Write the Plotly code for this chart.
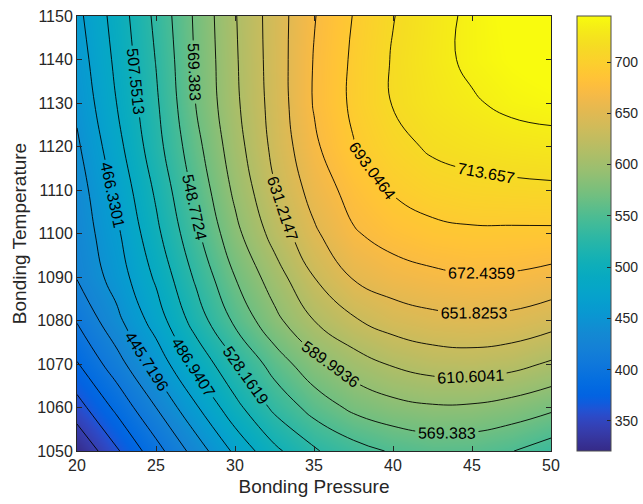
import plotly.graph_objects as go

# ---- data ----
pressure = [20, 22.5, 25, 27.5, 30, 32.5, 35, 37.5, 40, 42.5, 45, 47.5, 50]
temperature = [1050, 1060, 1070, 1080, 1090, 1100, 1110, 1120, 1130, 1140, 1150]

t1050 = [322.5, 360.3, 396.4, 433.5, 470.5, 502.7, 526.0, 540.5, 551.0, 556.5, 556.0, 549.5, 538.3]
t1060 = [355.0, 388.7, 425.1, 463.3, 500.9, 532.9, 556.7, 574.0, 583.2, 587.6, 587.1, 581.8, 573.5]
t1070 = [382.5, 416.3, 453.1, 491.4, 525.6, 557.9, 583.1, 600.5, 612.6, 619.4, 620.9, 617.1, 607.9]
t1080 = [406.0, 440.2, 475.8, 516.4, 552.9, 584.3, 610.6, 629.0, 640.5, 646.3, 648.4, 646.3, 639.5]
t1090 = [426.3, 454.7, 490.4, 531.3, 569.4, 600.9, 631.2, 653.6, 663.4, 668.1, 671.1, 670.1, 665.4]
t1100 = [431.8, 462.2, 502.4, 544.0, 584.1, 618.3, 648.4, 670.5, 680.5, 687.0, 689.5, 689.4, 689.3]
t1110 = [435.5, 470.7, 511.0, 553.9, 594.4, 629.8, 660.1, 680.5, 695.0, 703.5, 707.4, 708.8, 709.9]
t1120 = [442.5, 479.6, 520.2, 562.5, 601.8, 636.7, 668.8, 692.0, 706.5, 717.0, 721.5, 725.0, 727.1]
t1130 = [450.0, 486.9, 525.0, 569.4, 606.5, 639.3, 673.9, 696.9, 714.7, 725.0, 732.0, 739.0, 742.0]
t1140 = [455.5, 491.4, 529.0, 571.1, 608.0, 640.4, 673.4, 696.2, 715.2, 727.7, 738.5, 745.5, 750.5]
t1150 = [460.7, 495.2, 532.9, 572.6, 609.2, 640.8, 671.3, 693.8, 712.9, 726.7, 738.5, 747.5, 754.9]

z_rows = [t1050, t1060, t1070, t1080, t1090, t1100, t1110, t1120, t1130, t1140, t1150]

# contour levels (from the printed labels)
level_start = 342.666708
level_step = 20.610572
level_end = 734.2676

# colour limits (from the colorbar)
color_min = 320.7
color_max = 744.9
colorbar_ticks = [350, 400, 450, 500, 550, 600, 650, 700]

x_ticks = [20, 25, 30, 35, 40, 45, 50]
y_ticks = [1050, 1060, 1070, 1080, 1090, 1100, 1110, 1120, 1130, 1140, 1150]

# MATLAB parula colormap
parula = [
    (0.2081, 0.1663, 0.5292), (0.2116, 0.1898, 0.5777), (0.2123, 0.2138, 0.6270), (0.2081, 0.2386, 0.6771),
    (0.1959, 0.2645, 0.7279), (0.1707, 0.2919, 0.7792), (0.1253, 0.3242, 0.8303), (0.0591, 0.3598, 0.8683),
    (0.0117, 0.3875, 0.8820), (0.0060, 0.4086, 0.8828), (0.0165, 0.4266, 0.8786), (0.0329, 0.4430, 0.8720),
    (0.0498, 0.4586, 0.8641), (0.0629, 0.4737, 0.8554), (0.0723, 0.4887, 0.8467), (0.0779, 0.5040, 0.8384),
    (0.0793, 0.5200, 0.8312), (0.0749, 0.5375, 0.8263), (0.0641, 0.5570, 0.8240), (0.0488, 0.5772, 0.8228),
    (0.0343, 0.5966, 0.8199), (0.0265, 0.6137, 0.8135), (0.0239, 0.6287, 0.8038), (0.0231, 0.6418, 0.7913),
    (0.0228, 0.6535, 0.7768), (0.0267, 0.6642, 0.7607), (0.0384, 0.6743, 0.7436), (0.0590, 0.6838, 0.7254),
    (0.0843, 0.6928, 0.7062), (0.1133, 0.7015, 0.6859), (0.1453, 0.7098, 0.6646), (0.1801, 0.7177, 0.6424),
    (0.2178, 0.7250, 0.6193), (0.2586, 0.7317, 0.5954), (0.3022, 0.7376, 0.5712), (0.3482, 0.7424, 0.5473),
    (0.3953, 0.7459, 0.5244), (0.4420, 0.7481, 0.5033), (0.4871, 0.7491, 0.4840), (0.5300, 0.7491, 0.4661),
    (0.5709, 0.7485, 0.4494), (0.6099, 0.7473, 0.4337), (0.6473, 0.7456, 0.4188), (0.6834, 0.7435, 0.4044),
    (0.7184, 0.7411, 0.3905), (0.7525, 0.7384, 0.3768), (0.7858, 0.7356, 0.3633), (0.8185, 0.7327, 0.3498),
    (0.8507, 0.7299, 0.3360), (0.8824, 0.7274, 0.3217), (0.9139, 0.7258, 0.3063), (0.9450, 0.7261, 0.2886),
    (0.9739, 0.7314, 0.2666), (0.9938, 0.7455, 0.2403), (0.9990, 0.7653, 0.2164), (0.9955, 0.7861, 0.1967),
    (0.9880, 0.8066, 0.1794), (0.9789, 0.8271, 0.1633), (0.9697, 0.8481, 0.1475), (0.9626, 0.8705, 0.1309),
    (0.9589, 0.8949, 0.1132), (0.9598, 0.9218, 0.0948), (0.9661, 0.9514, 0.0755), (0.9763, 0.9831, 0.0538),
]
n = len(parula)
colorscale = [
    [i / (n - 1), "rgb({},{},{})".format(int(round(r * 255)), int(round(g * 255)), int(round(b * 255)))]
    for i, (r, g, b) in enumerate(parula)
]

FONT = "Liberation Sans, Arial, Helvetica, sans-serif"
TXT = "#262626"

fig = go.Figure()

# smooth colour fill with a continuous colorbar
fig.add_trace(go.Heatmap(
    x=pressure,
    y=temperature,
    z=z_rows,
    zsmooth="best",
    colorscale=colorscale,
    zauto=False,
    zmin=color_min,
    zmax=color_max,
    colorbar=dict(
        x=1.0549, xanchor="left", xref="paper",
        y=0.5, yanchor="middle",
        len=1.0, lenmode="fraction",
        thickness=34, thicknessmode="pixels",
        xpad=0, ypad=0,
        tickvals=colorbar_ticks,
        ticks="inside", ticklen=4, tickcolor=TXT,
        outlinecolor="#4d4d4d", outlinewidth=1,
        tickfont=dict(family=FONT, size=14, color=TXT),
    ),
    hoverinfo="skip",
))

# black labelled contour lines
fig.add_trace(go.Contour(
    x=pressure,
    y=temperature,
    z=z_rows,
    showscale=False,
    autocontour=False,
    contours=dict(
        start=level_start,
        end=level_end + 1e-3,
        size=level_step,
        coloring="none",
        showlines=True,
        showlabels=True,
        labelformat=".7~g",
        labelfont=dict(family=FONT, size=16, color="black"),
    ),
    line=dict(color="black", width=0.9, smoothing=1.3),
    hoverinfo="skip",
))

fig.update_layout(
    width=643, height=504,
    margin=dict(l=77, r=92, t=16, b=53, autoexpand=False),
    paper_bgcolor="white",
    plot_bgcolor="white",
    font=dict(family=FONT, color=TXT),
    xaxis=dict(
        range=[20, 50], tickvals=x_ticks,
        automargin=False,
        showline=True, linecolor=TXT, linewidth=1, mirror="ticks",
        ticks="inside", ticklen=5, tickcolor=TXT,
        showgrid=False, zeroline=False,
        tickfont=dict(size=16, color=TXT),
        title=dict(text="Bonding Pressure", font=dict(size=19, color=TXT), standoff=6),
    ),
    yaxis=dict(
        range=[1050, 1150], tickvals=y_ticks,
        automargin=False,
        showline=True, linecolor=TXT, linewidth=1, mirror="ticks",
        ticks="inside", ticklen=5, tickcolor=TXT,
        showgrid=False, zeroline=False,
        tickfont=dict(size=16, color=TXT),
        title=dict(text="Bonding Temperature", font=dict(size=19, color=TXT), standoff=5),
    ),
)

fig.write_html("out.html")
